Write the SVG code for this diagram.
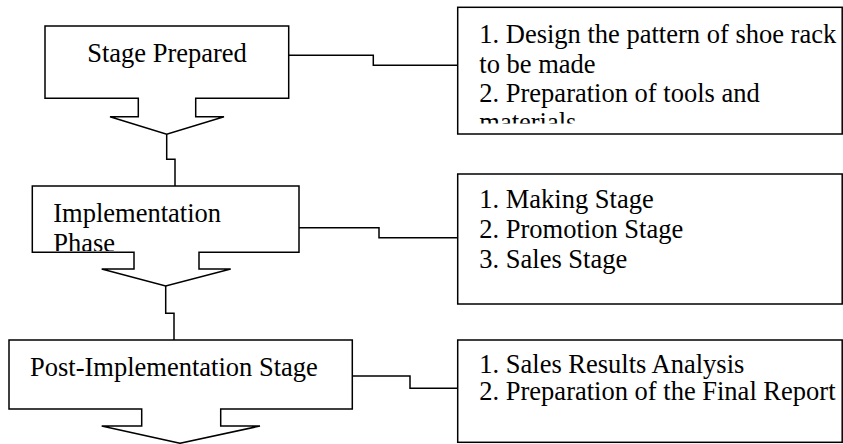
<svg xmlns="http://www.w3.org/2000/svg" width="843" height="444" viewBox="0 0 843 444">
<defs>
<style>
.shape{fill:#fff;stroke:#000;stroke-width:1.5;stroke-linejoin:miter}
.conn{fill:none;stroke:#000;stroke-width:1.5}
text{font-family:"Liberation Serif","Times New Roman",serif;font-size:26.5px;fill:#000}
</style>
<clipPath id="clipR1"><rect x="458" y="8" width="384" height="115.5"/></clipPath>
<clipPath id="clipN2"><rect x="33" y="187" width="265" height="64"/></clipPath>
</defs>
<rect width="843" height="444" fill="#fff"/>
<g id="connectors">
<path class="conn" d="M288.7,55.3 H373.3 V65.3 H457.7"/>
<path class="conn" d="M166.7,134.3 V159.3 H175 V186"/>
<path class="conn" d="M299,227.7 H379 V237.7 H457.7"/>
<path class="conn" d="M165.7,286 V313.3 H174 V340"/>
<path class="conn" d="M352.3,376 H410 V388.3 H457.7"/>
</g>
<g id="node-stage-prepared">
<path class="shape" d="M45,26 H288.7 V98.3 H195.7 V116.7 H224 L166.7,134.3 L110,116.7 H138.3 V98.3 H45 Z"/>
<text x="167" y="61.7" text-anchor="middle">Stage Prepared</text>
</g>
<g id="node-implementation">
<path class="shape" d="M32.3,186 H299 V252.3 H199 V269 H230.7 L165.7,286 L101.7,269 H134 V252.3 H32.3 Z"/>
<g clip-path="url(#clipN2)">
<text x="53.3" y="222.3">Implementation</text>
<text x="53.3" y="251.5">Phase</text>
</g>
</g>
<g id="node-post-implementation">
<path class="shape" d="M9,340 H352.3 V409 H220.7 V426 H260 L180,443.3 L101.7,426 H141.7 V409 H9 Z"/>
<text x="30" y="376">Post-Implementation Stage</text>
</g>
<g id="node-prep-details">
<rect class="shape" x="457.7" y="7.3" width="384.5" height="126.7"/>
<g clip-path="url(#clipR1)">
<text x="479.3" y="43.3">1. Design the pattern of shoe rack</text>
<text x="479.3" y="72.7">to be made</text>
<text x="479.3" y="101.7">2. Preparation of tools and</text>
<text x="479.3" y="131">materials</text>
</g>
</g>
<g id="node-impl-details">
<rect class="shape" x="457.7" y="174" width="384.5" height="130"/>
<text x="479.3" y="208.3">1. Making Stage</text>
<text x="479.3" y="238.3">2. Promotion Stage</text>
<text x="479.3" y="268.3">3. Sales Stage</text>
</g>
<g id="node-post-details">
<rect class="shape" x="457.7" y="340" width="384.5" height="102.3"/>
<text x="479.3" y="373.3">1. Sales Results Analysis</text>
<text x="479.3" y="400">2. Preparation of the Final Report</text>
</g>
</svg>
